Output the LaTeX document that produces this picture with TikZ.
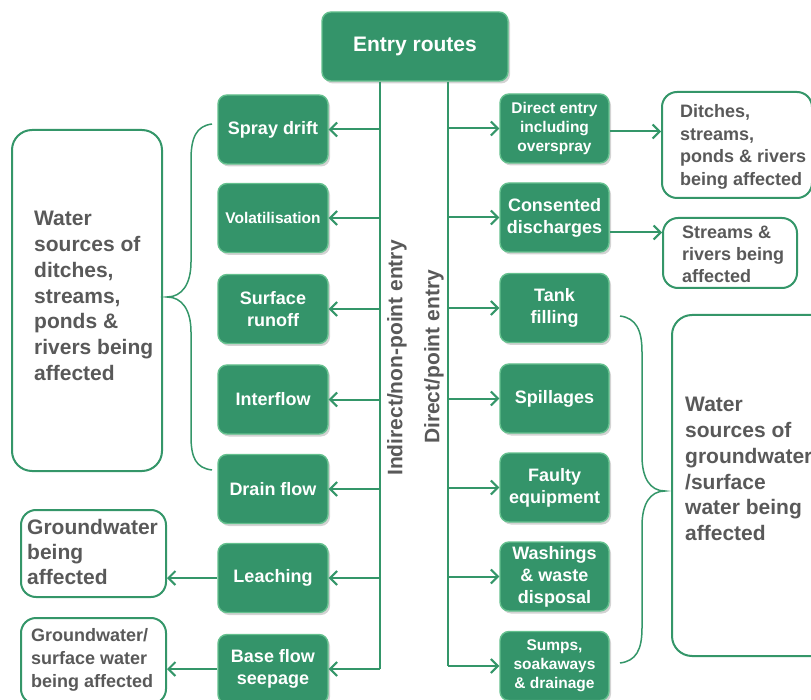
\documentclass[tikz,border=0pt]{standalone}
\usepackage{fontspec}
\setmainfont{Liberation Sans}
\usetikzlibrary{arrows.meta,shadows}
\definecolor{routefill}{RGB}{52,148,106}
\definecolor{routeedge}{RGB}{100,192,142}
\definecolor{routeline}{RGB}{52,150,105}
\definecolor{labelgray}{RGB}{89,89,89}
\tikzset{
  route/.style={rounded corners=9pt, fill=routefill, draw=routeedge, line width=1.4pt,
    text=white, align=center, minimum width=110pt, minimum height=69pt, inner sep=1pt,
    font=\bfseries\fontsize{18}{22}\selectfont,
    drop shadow={shadow xshift=2pt, shadow yshift=-2.5pt, opacity=.35}},
  smallroute/.style={route, font=\bfseries\fontsize{15.5}{19}\selectfont},
  effect/.style={rounded corners=15pt, draw=routeline, line width=2pt, inner sep=0pt},
  bigtext/.style={anchor=west, inner sep=0pt, text=labelgray, align=left,
    font=\bfseries\fontsize{21}{25.8}\selectfont},
  midtext/.style={anchor=west, inner sep=0pt, text=labelgray, align=left,
    font=\bfseries\fontsize{18}{22.5}\selectfont},
  side/.style={text=labelgray, rotate=90, inner sep=0pt, font=\bfseries\fontsize{21}{25}\selectfont},
  feed/.style={routeline, line width=2pt},
  flow/.style={feed, -{Straight Barb[length=7pt,width=14pt]}},
  brace/.style={routeline, line width=1.5pt}
}
\begin{document}
\begin{tikzpicture}[x=1pt,y=-1pt]
  \clip (0,0) rectangle (811,700);

  \node[route, minimum width=186pt, font=\bfseries\fontsize{21}{25}\selectfont] (entry) at (415,46.5) {Entry routes};

  % indirect / non-point
  \node[route] (spray) at (273,129.5) {Spray drift};
  \node[smallroute] (volat) at (273,218) {Volatilisation};
  \node[route] (runoff) at (273,309) {Surface\\runoff};
  \node[route] (inter) at (273,399.5) {Interflow};
  \node[route] (drain) at (273,489) {Drain flow};
  \node[route] (leach) at (273,578) {Leaching};
  \node[route] (base) at (273,669) {Base flow\\seepage};

  % direct / point
  \node[smallroute, minimum width=109pt] (direct) at (554.5,128.5) {Direct entry\\including\\overspray};
  \node[route, minimum width=109pt] (consent) at (554.5,217.5) {Consented\\discharges};
  \node[route, minimum width=109pt] (tank) at (554.5,308) {Tank\\filling};
  \node[route, minimum width=109pt] (spill) at (554.5,398.5) {Spillages};
  \node[route, minimum width=109pt] (faulty) at (554.5,487.5) {Faulty\\equipment};
  \node[route, minimum width=109pt] (wash) at (554.5,576.5) {Washings\\\& waste\\disposal};
  \node[smallroute, minimum width=109pt] (sumps) at (554.5,666) {Sumps,\\soakaways\\\& drainage};

  \coordinate (indtop) at ([xshift=-35pt]entry.south);
  \coordinate (indbot) at (indtop |- base.east);
  \coordinate (dirtop) at ([xshift=33pt]entry.south);
  \coordinate (dirbot) at (dirtop |- sumps.west);
  \draw[feed] (indtop) -- (indbot);
  \draw[feed] (dirtop) -- (dirbot);

  \node[side] (indlabel) at (397,358) {Indirect/non-point entry};
  \node[side] (dirlabel) at (434,357) {Direct/point entry};

  \draw[flow] (indtop |- spray.east) -- (spray.east);
  \draw[flow] (indtop |- volat.east) -- (volat.east);
  \draw[flow] (indtop |- runoff.east) -- (runoff.east);
  \draw[flow] (indtop |- inter.east) -- (inter.east);
  \draw[flow] (indtop |- drain.east) -- (drain.east);
  \draw[flow] (indtop |- leach.east) -- (leach.east);
  \draw[flow] (indtop |- base.east) -- (base.east);

  \draw[flow] (dirtop |- direct.west) -- (direct.west);
  \draw[flow] (dirtop |- consent.west) -- (consent.west);
  \draw[flow] (dirtop |- tank.west) -- (tank.west);
  \draw[flow] (dirtop |- spill.west) -- (spill.west);
  \draw[flow] (dirtop |- faulty.west) -- (faulty.west);
  \draw[flow] (dirtop |- wash.west) -- (wash.west);
  \draw[flow] (dirtop |- sumps.west) -- (sumps.west);

  % affected waters
  \node[effect, minimum width=150pt, minimum height=106pt] (ditches) at (737,145) {};
  \node[midtext] (ditchestext) at (680,147) {Ditches,\\streams,\\ponds \& rivers\\being affected};
  \node[effect, minimum width=134pt, minimum height=70pt] (streams) at (730,253) {};
  \node[midtext, font=\bfseries\fontsize{18}{22}\selectfont] (streamstext) at (682,254) {Streams \&\\rivers being\\affected};
  \node[effect, rounded corners=20pt, minimum width=168pt, minimum height=341pt] (gwbig) at (756,485.5) {};
  \node[bigtext] (gwbigtext) at (685,469) {Water\\sources of\\groundwater\\/surface\\water being\\affected};
  \node[effect, rounded corners=20pt, minimum width=150pt, minimum height=341pt] (wsbig) at (87,300.5) {};
  \node[bigtext] (wsbigtext) at (34,296) {Water\\sources of\\ditches,\\streams,\\ponds \&\\rivers being\\affected};
  \node[effect, minimum width=145pt, minimum height=87pt] (gwone) at (93.5,553.5) {};
  \node[bigtext, font=\bfseries\fontsize{21}{25}\selectfont] (gwonetext) at (27,552) {Groundwater\\being\\affected};
  \node[effect, minimum width=145pt, minimum height=86pt] (gwtwo) at (93.5,661) {};
  \node[midtext, font=\bfseries\fontsize{18}{23}\selectfont] (gwtwotext) at (31,660) {Groundwater/\\surface water\\being affected};

  \draw[flow] ([yshift=-3pt]direct.east) -- ([yshift=-3pt]direct.east -| ditches.west);
  \draw[flow] ([yshift=-15pt]consent.east) -- ([yshift=-15pt]consent.east -| streams.west);
  \draw[flow] (leach.west) -- (leach.west -| gwone.east);
  \draw[flow] (base.west) -- (base.west -| gwtwo.east);

  % braces
  \draw[brace] (212,124) .. controls (196,126) and (191,138) .. (191,160) -- (191,262)
    .. controls (191,284) and (182,297) .. (167,297)
    .. controls (182,297) and (191,310) .. (191,332) -- (191,436)
    .. controls (191,458) and (196,468) .. (212,470);
  \draw[brace] (620,316) .. controls (636,318) and (642,330) .. (642,352) -- (642,456)
    .. controls (642,478) and (650,491) .. (665,491)
    .. controls (650,491) and (642,504) .. (642,526) -- (642,628)
    .. controls (642,650) and (636,661) .. (620,663);
\end{tikzpicture}
\end{document}
